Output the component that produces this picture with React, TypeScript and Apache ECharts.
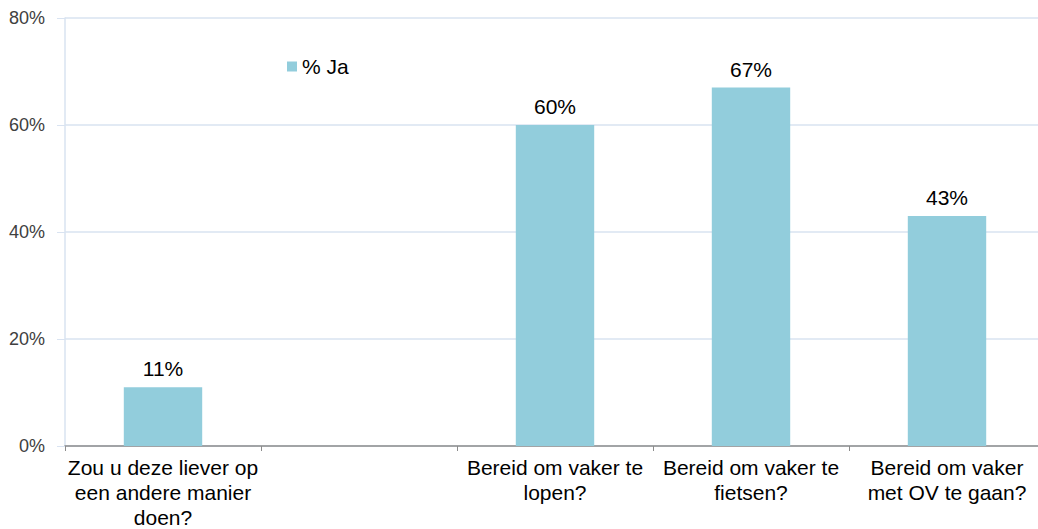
import React, { useEffect, useRef } from "react";
import * as echarts from "echarts";

const categories = [
  "Zou u deze liever op\neen andere manier\ndoen?",
  "",
  "Bereid om vaker te\nlopen?",
  "Bereid om vaker te\nfietsen?",
  "Bereid om vaker\nmet OV te gaan?",
];
const seriesName = "% Ja";
const values: (number | null)[] = [11, null, 60, 67, 43];
const yTicks = { min: 0, max: 80, interval: 20 };

const FONT = "'Liberation Sans', Arial, sans-serif";

export default function App() {
  const ref = useRef<HTMLDivElement>(null);
  useEffect(() => {
    if (!ref.current) return;
    const chart = echarts.init(ref.current, undefined, { renderer: "svg" });
    chart.setOption({
      animation: false,
      textStyle: { fontFamily: FONT },
      grid: {
        left: 65,
        top: 18,
        bottom: 83,
        right: -7,
        containLabel: false,
        outerBoundsMode: "none",
      },
      legend: {
        show: true,
        left: 287,
        top: 56,
        padding: 0,
        itemWidth: 10,
        itemHeight: 10,
        itemGap: 5,
        icon: "rect",
        textStyle: { fontSize: 21, color: "#000", fontFamily: FONT },
        data: [seriesName],
      },
      xAxis: {
        type: "category",
        data: categories,
        axisLine: { show: true, lineStyle: { color: "#8c8c8c", width: 1.5 } },
        axisTick: { show: true, length: 5, lineStyle: { color: "#8c8c8c" } },
        axisLabel: {
          interval: 0,
          margin: 9,
          fontSize: 21,
          lineHeight: 25,
          color: "#000",
          fontFamily: FONT,
          align: "center",
        },
        splitLine: { show: false },
      },
      yAxis: {
        type: "value",
        min: yTicks.min,
        max: yTicks.max,
        interval: yTicks.interval,
        axisLine: { show: true, lineStyle: { color: "#d9e3f1", width: 1.5 } },
        axisTick: { show: true, length: 8, lineStyle: { color: "#d9e3f1" } },
        axisLabel: {
          formatter: "{value}%",
          fontSize: 18,
          color: "#404040",
          margin: 20,
          fontFamily: FONT,
        },
        splitLine: { show: true, lineStyle: { color: "#d9e3f1", width: 1.5 } },
      },
      series: [
        {
          name: seriesName,
          type: "bar",
          data: values,
          barWidth: "40%",
          itemStyle: { color: "#92cddc" },
          label: {
            show: true,
            position: "top",
            distance: 8,
            formatter: "{c}%",
            fontSize: 21,
            color: "#000",
            fontFamily: FONT,
          },
        },
      ],
    });
    return () => chart.dispose();
  }, []);
  return (
    <div
      ref={ref}
      style={{ position: "absolute", left: 0, top: 0, width: 1038, height: 529 }}
    />
  );
}
